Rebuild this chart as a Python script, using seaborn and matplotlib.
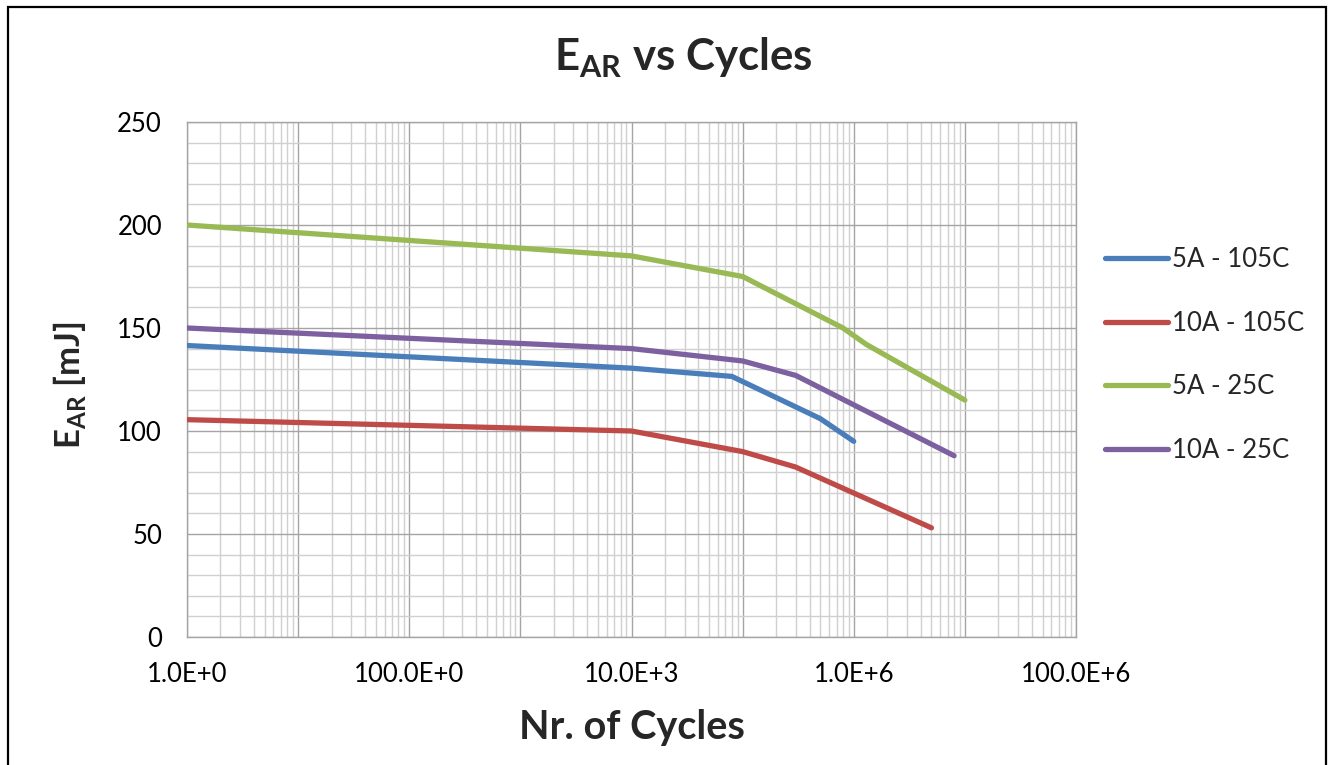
import numpy as np
import pandas as pd
import seaborn as sns
import matplotlib
matplotlib.use("Agg")
import matplotlib.pyplot as plt
from matplotlib.patches import Rectangle
from matplotlib.ticker import LogLocator, NullFormatter, MultipleLocator

# ---- data ----
series_names = ["5A - 105C", "10A - 105C", "5A - 25C", "10A - 25C"]
cycles_5a_105 = [1, 1e4, 8e4, 5e5, 1e6]
ear_5a_105 = [141.5, 130.5, 126.5, 106, 95]
cycles_10a_105 = [1, 1e4, 1e5, 3e5, 5e6]
ear_10a_105 = [105.5, 100, 90, 82.5, 53]
cycles_5a_25 = [1, 1e4, 1e5, 8e5, 1.3e6, 1e7]
ear_5a_25 = [200, 185, 175, 150, 142, 115]
cycles_10a_25 = [1, 1e4, 1e5, 3e5, 8e6]
ear_10a_25 = [150, 140, 134, 127, 88]

xtick_values = [1, 1e2, 1e4, 1e6, 1e8]
xtick_labels = ["1.0E+0", "100.0E+0", "10.0E+3", "1.0E+6", "100.0E+6"]
ytick_values = [0, 50, 100, 150, 200, 250]

colors = ["#4A7EBB", "#BE4B48", "#98B954", "#7D60A0"]

frames = []
for name, xs, ys in zip(series_names,
                        [cycles_5a_105, cycles_10a_105, cycles_5a_25, cycles_10a_25],
                        [ear_5a_105, ear_10a_105, ear_5a_25, ear_10a_25]):
    frames.append(pd.DataFrame({"cycles": xs, "ear": ys, "series": name}))
df = pd.concat(frames, ignore_index=True)

sns.set_theme(style="white")
plt.rcParams["font.family"] = ["Lato", "DejaVu Sans"]
plt.rcParams["mathtext.fontset"] = "custom"
plt.rcParams["mathtext.rm"] = "Lato"
plt.rcParams["mathtext.bf"] = "Lato:bold"

W, H = 1332, 765
fig = plt.figure(figsize=(W / 100, H / 100), dpi=100)
ax = fig.add_axes([187 / W, 1 - 637 / H, (1076 - 187) / W, (637 - 122) / H])

sns.lineplot(data=df, x="cycles", y="ear", hue="series", hue_order=series_names,
             palette=colors, sort=False, estimator=None, linewidth=3.8,
             solid_capstyle="round", ax=ax, zorder=3)

ax.set_xscale("log")
ax.set_xlim(1, 1e8)
ax.set_ylim(0, 250)

# grid
ax.xaxis.set_major_locator(LogLocator(base=10, numticks=20))
ax.xaxis.set_minor_locator(LogLocator(base=10, subs=np.arange(2, 10), numticks=100))
ax.xaxis.set_minor_formatter(NullFormatter())
ax.yaxis.set_minor_locator(MultipleLocator(10))
ax.grid(which="minor", color="#D0D0D0", linewidth=1.0, zorder=0)
ax.grid(which="major", color="#A4A4A4", linewidth=1.0, zorder=0)
ax.set_axisbelow(True)

ax.set_yticks(ytick_values)
ax.set_yticklabels([str(v) for v in ytick_values])
# x tick marks at each decade, labels every two decades
decades = [10.0 ** k for k in range(0, 9)]
ax.set_xticks(decades)
ax.set_xticklabels([xtick_labels[xtick_values.index(d)] if d in xtick_values else "" for d in decades])

ax.tick_params(axis="both", which="major", labelsize=18.5, colors="#A0A0A0",
               labelcolor="black", length=7, width=1.0, direction="out")
ax.tick_params(axis="y", pad=11)
ax.tick_params(axis="x", pad=11)
ax.tick_params(which="minor", length=0)

for s in ax.spines.values():
    s.set_color("#A4A4A4")
    s.set_linewidth(1.0)

ax.set_xlabel("")
ax.set_ylabel("")

# legend
ax.legend_.remove()
handles, labels = ax.get_legend_handles_labels()
leg = fig.legend(handles, labels, loc="center left", bbox_to_anchor=(1105 / W, 1 - 355 / H),
                 frameon=False, fontsize=18.5, labelspacing=1.5, handlelength=2.45,
                 handletextpad=0.15, borderpad=0, borderaxespad=0)
for l in leg.get_lines():
    l.set_linewidth(3.8)
    l.set_solid_capstyle("round")

# titles / labels
fig.text(683 / W, 1 - 58 / H, r"$\mathbf{E}_{\mathbf{AR}}$ vs Cycles", fontsize=31.5,
         fontweight="bold", ha="center", va="center")
fig.text(632 / W, 1 - 728 / H, "Nr. of Cycles", fontsize=28.5, fontweight="bold",
         ha="center", va="center")
fig.text(70 / W, 1 - 385 / H, r"$\mathbf{E}_{\mathbf{AR}}$ [mJ]", fontsize=25,
         fontweight="bold", ha="center", va="center", rotation=90)

# outer border
fig.patches.append(Rectangle((7.5 / W, -0.02), (1326 - 7.5) / W, 1.02 - 7.5 / H,
                             transform=fig.transFigure, fill=False, edgecolor="black",
                             linewidth=1.6))

fig.savefig("out.png", dpi=100)
